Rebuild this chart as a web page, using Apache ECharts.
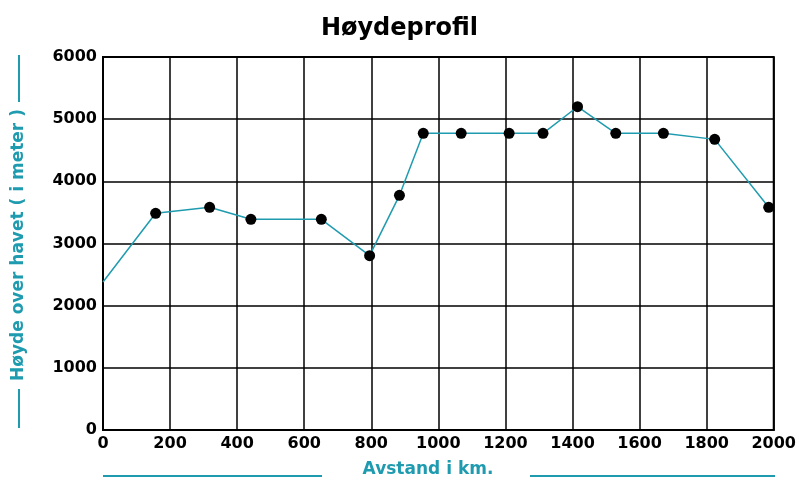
<!DOCTYPE html>
<html>
<head>
<meta charset="utf-8">
<script src="https://cdn.jsdelivr.net/npm/echarts@6/dist/echarts.min.js"></script>
<style>
html,body{margin:0;padding:0;background:#fff;}
#main{width:799px;height:482px;}
</style>
</head>
<body>
<div id="main"></div>
<script>
// avstand (km) og høyde (m) lest av figuren
var avstand = [0, 157, 318, 441, 651, 795, 884, 955, 1068, 1211, 1312, 1415, 1529, 1671, 1824, 1985];
var hoyde   = [2380, 3486, 3582, 3389, 3389, 2804, 3775, 4772, 4772, 4772, 4772, 5200, 4772, 4772, 4675, 3582];
var xTicks = [0, 200, 400, 600, 800, 1000, 1200, 1400, 1600, 1800, 2000];
var yTicks = [0, 1000, 2000, 3000, 4000, 5000, 6000];

var teal = '#1f9bb0';
var font = 'DejaVu Sans';

var punkter = [];
for (var i = 0; i < avstand.length; i++) {
    var p = {value: [avstand[i], hoyde[i]]};
    if (i === 0) p.symbol = 'none';   // første punkt uten markør
    punkter.push(p);
}

var myChart = echarts.init(document.getElementById('main'));
var option = {
    animation: false,
    backgroundColor: '#fff',
    title: {
        text: 'Høydeprofil',
        left: 'center',
        top: 12,
        textStyle: {fontFamily: font, fontSize: 24, fontWeight: 'bold', color: '#000'}
    },
    grid: {
        left: 103, right: 24, top: 57, bottom: 52,
        show: true, borderColor: '#000', borderWidth: 2
    },
    xAxis: {
        type: 'value',
        min: xTicks[0], max: xTicks[xTicks.length - 1], interval: 200,
        axisLine: {show: true, lineStyle: {color: '#000', width: 2}},
        axisTick: {show: false},
        splitLine: {show: true, lineStyle: {color: '#000', width: 1.5}},
        axisLabel: {
            fontFamily: font, fontSize: 16, fontWeight: 'bold', color: '#000', margin: 6,
            formatter: function (v) { return xTicks.indexOf(v) >= 0 ? String(v) : ''; }
        }
    },
    yAxis: {
        type: 'value',
        min: yTicks[0], max: yTicks[yTicks.length - 1], interval: 1000,
        axisLine: {show: true, lineStyle: {color: '#000', width: 2}},
        axisTick: {show: false},
        splitLine: {show: true, lineStyle: {color: '#000', width: 1.5}},
        axisLabel: {
            fontFamily: font, fontSize: 16, fontWeight: 'bold', color: '#000', margin: 6,
            formatter: function (v) { return yTicks.indexOf(v) >= 0 ? String(v) : ''; }
        }
    },
    series: [{
        type: 'line',
        data: punkter,
        symbol: 'circle',
        symbolSize: 11,
        lineStyle: {color: teal, width: 1.5},
        itemStyle: {color: '#000'},
        clip: false
    }],
    graphic: [
        // x-akse tittel med streker
        {type: 'line', shape: {x1: 103, y1: 476, x2: 322, y2: 476}, style: {stroke: teal, lineWidth: 2}},
        {type: 'line', shape: {x1: 530, y1: 476, x2: 775, y2: 476}, style: {stroke: teal, lineWidth: 2}},
        {type: 'text', x: 428, y: 470, style: {text: 'Avstand i km.', fill: teal, font: 'bold 17px "DejaVu Sans"', textAlign: 'center', textVerticalAlign: 'middle'}},
        // y-akse tittel med streker
        {type: 'line', shape: {x1: 19, y1: 55, x2: 19, y2: 102}, style: {stroke: teal, lineWidth: 2}},
        {type: 'line', shape: {x1: 19, y1: 389, x2: 19, y2: 428}, style: {stroke: teal, lineWidth: 2}},
        {type: 'text', x: 19, y: 245, rotation: Math.PI / 2, style: {text: 'Høyde over havet ( i meter )', fill: teal, font: 'bold 17px "DejaVu Sans"', textAlign: 'center', textVerticalAlign: 'middle'}}
    ]
};
myChart.setOption(option);
window.addEventListener('resize', function () { myChart.resize(); });
</script>
</body>
</html>
